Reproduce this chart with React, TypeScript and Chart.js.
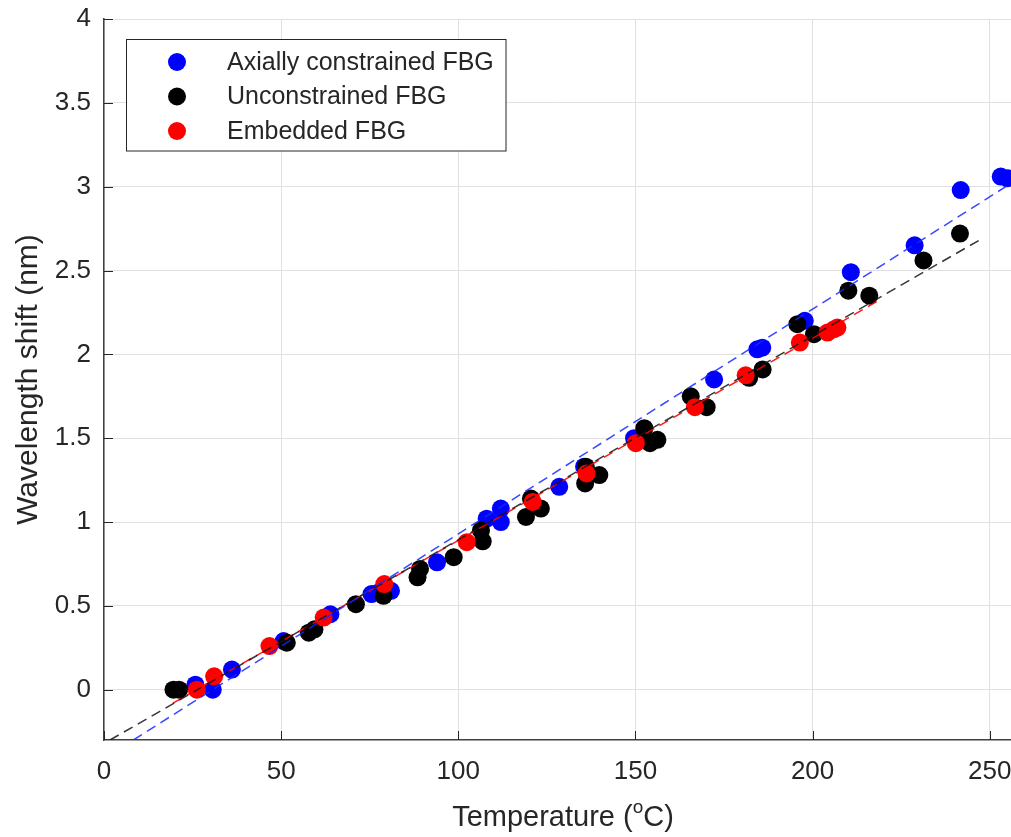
import { useEffect, useRef } from "react";
import { Chart, registerables } from "chart.js";

Chart.register(...registerables);

// ---- Data ----
const xTickValues = [0, 50, 100, 150, 200, 250];
const yTickValues = [0, 0.5, 1, 1.5, 2, 2.5, 3, 3.5, 4];
const xLimits = [0, 256];
const yLimits = [-0.3, 4];

const seriesNames = ["Axially constrained FBG", "Unconstrained FBG", "Embedded FBG"];

const axialT = [25.8, 30.7, 36.1, 50.7, 63.9, 75.5, 77.5, 81, 94, 108, 112, 112, 128.5, 135.5, 149.6, 172.2, 184.4, 185.8, 197.8, 210.8, 228.8, 241.8, 253.1, 255];
const axialShift = [0.03, 0.0, 0.12, 0.29, 0.45, 0.57, 0.58, 0.59, 0.76, 1.02, 1.08, 1.0, 1.21, 1.33, 1.5, 1.85, 2.03, 2.04, 2.2, 2.49, 2.65, 2.98, 3.06, 3.05];

const unconT = [19.6, 21.2, 51.6, 57.8, 59.4, 71.1, 78.9, 88.5, 89.2, 98.7, 106.9, 106.4, 119.1, 120.5, 123.3, 136, 135.8, 139.8, 152.5, 154.1, 156.2, 165.6, 170.1, 182.1, 185.9, 195.7, 200.4, 210.1, 216, 231.3, 241.6];
const unconShift = [0.0, 0.0, 0.28, 0.34, 0.36, 0.51, 0.56, 0.67, 0.72, 0.79, 0.885, 0.95, 1.03, 1.14, 1.08, 1.33, 1.23, 1.28, 1.56, 1.47, 1.49, 1.75, 1.685, 1.86, 1.91, 2.18, 2.12, 2.38, 2.35, 2.56, 2.72];

const embT = [26.2, 31.1, 46.7, 62, 79.1, 102.4, 121, 136.2, 150.1, 166.8, 181.1, 196.4, 204.2, 206.1, 207];
const embShift = [0.0, 0.08, 0.26, 0.43, 0.63, 0.88, 1.12, 1.29, 1.47, 1.685, 1.875, 2.07, 2.13, 2.15, 2.16];

// linear fit line end points (T, shift)
const axialFitT = [8.3, 256];
const axialFitShift = [-0.3, 3.02];
const unconFitT = [1.7, 247.8];
const unconFitShift = [-0.3, 2.69];
const embFitT = [19.5, 219];
const embFitShift = [-0.08, 2.325];

const xTitleMain = "Temperature (";
const xTitleSup = "o";
const xTitleEnd = "C)";
const yTitle = "Wavelength shift (nm)";

const FONT = '"Liberation Sans", Arial, Helvetica, sans-serif';
const TEXT = "#262626";

const pts = (xs: number[], ys: number[]) => xs.map((x, i) => ({ x, y: ys[i] }));

const decorPlugin = {
  id: "decor",
  afterDraw(chart: any) {
    const ctx = chart.ctx;
    const xs = chart.scales.x;
    const ys = chart.scales.y;
    const area = chart.chartArea;
    ctx.save();
    // inward tick marks
    ctx.strokeStyle = TEXT;
    ctx.lineWidth = 1;
    ctx.beginPath();
    for (const v of xTickValues) {
      const px = Math.round(xs.getPixelForValue(v)) + 0.5;
      ctx.moveTo(px, area.bottom);
      ctx.lineTo(px, area.bottom - 9);
    }
    for (const v of yTickValues) {
      const py = Math.round(ys.getPixelForValue(v)) + 0.5;
      ctx.moveTo(area.left, py);
      ctx.lineTo(area.left + 9, py);
    }
    ctx.stroke();

    // x axis title with superscript
    ctx.fillStyle = TEXT;
    ctx.textBaseline = "alphabetic";
    ctx.textAlign = "left";
    const big = `29px ${FONT}`;
    const small = `19px ${FONT}`;
    ctx.font = big;
    const w1 = ctx.measureText(xTitleMain).width;
    const w3 = ctx.measureText(xTitleEnd).width;
    ctx.font = small;
    const w2 = ctx.measureText(xTitleSup).width;
    const total = w1 + w2 + w3;
    const cx = 563;
    const x0 = cx - total / 2;
    const base = 826;
    ctx.font = big;
    ctx.fillText(xTitleMain, x0, base);
    ctx.font = small;
    ctx.fillText(xTitleSup, x0 + w1, base - 13);
    ctx.font = big;
    ctx.fillText(xTitleEnd, x0 + w1 + w2, base);

    // legend
    const lx = 126.5, ly = 39.5, lw = 379.5, lh = 111.5;
    ctx.fillStyle = "#ffffff";
    ctx.fillRect(lx, ly, lw, lh);
    ctx.strokeStyle = "#262626";
    ctx.lineWidth = 1;
    ctx.strokeRect(lx, ly, lw, lh);
    const colors = ["#0000ff", "#000000", "#ff0000"];
    const rows = [62, 96.5, 131];
    ctx.font = `25px ${FONT}`;
    ctx.textBaseline = "middle";
    for (let i = 0; i < seriesNames.length; i++) {
      ctx.fillStyle = colors[i];
      ctx.beginPath();
      ctx.arc(177, rows[i], 9, 0, Math.PI * 2);
      ctx.fill();
      ctx.fillStyle = TEXT;
      ctx.fillText(seriesNames[i], 227, rows[i] + 1);
    }
    ctx.restore();
  },
};

export default function App() {
  const ref = useRef<HTMLCanvasElement | null>(null);
  useEffect(() => {
    if (!ref.current) return;
    const dashed = (color: string, xs: number[], ys: number[]) => ({
      type: "line" as const,
      data: pts(xs, ys),
      borderColor: color,
      borderWidth: 1.5,
      borderDash: [10, 6],
      pointRadius: 0,
      fill: false,
      order: 0,
    });
    const dots = (color: string, xs: number[], ys: number[], label: string, order: number) => ({
      type: "scatter" as const,
      label,
      data: pts(xs, ys),
      backgroundColor: color,
      borderWidth: 0,
      pointRadius: 9,
      pointHoverRadius: 9,
      order,
    });
    const chart = new Chart(ref.current, {
      type: "scatter",
      data: {
        datasets: [
          dashed("rgba(20,40,255,0.85)", axialFitT, axialFitShift),
          dashed("rgba(20,20,20,0.85)", unconFitT, unconFitShift),
          dashed("rgba(255,0,0,0.9)", embFitT, embFitShift),
          dots("#ff0000", embT, embShift, seriesNames[2], 1),
          dots("#000000", unconT, unconShift, seriesNames[1], 2),
          dots("#0000ff", axialT, axialShift, seriesNames[0], 3),
        ] as any,
      },
      options: {
        animation: false,
        responsive: false,
        devicePixelRatio: 1,
        layout: { autoPadding: false, padding: { top: 19, left: 0, right: 0, bottom: 0 } },
        plugins: { legend: { display: false }, tooltip: { enabled: false } },
        scales: {
          x: {
            type: "linear",
            min: xLimits[0],
            max: xLimits[1],
            afterBuildTicks: (s: any) => {
              s.ticks = xTickValues.map((v) => ({ value: v }));
            },
            afterFit: (s: any) => {
              s.height = 97;
              s.paddingLeft = 0;
              s.paddingRight = 0;
            },
            grid: { color: "#e0e0e0", lineWidth: 1, drawTicks: false },
            border: { color: "#404040", width: 1.5 },
            ticks: {
              color: TEXT,
              font: { family: FONT, size: 26 },
              padding: 16,
              maxRotation: 0,
              callback: (v: any) => String(v),
            },
          },
          y: {
            type: "linear",
            min: yLimits[0],
            max: yLimits[1],
            afterBuildTicks: (s: any) => {
              s.ticks = yTickValues.map((v) => ({ value: v }));
            },
            afterFit: (s: any) => {
              s.width = 104;
              s.paddingTop = 0;
              s.paddingBottom = 0;
            },
            grid: { color: "#e0e0e0", lineWidth: 1, drawTicks: false },
            border: { color: "#404040", width: 1.5 },
            ticks: {
              color: TEXT,
              font: { family: FONT, size: 26 },
              padding: 13,
              callback: (v: any) => String(v),
            },
            title: {
              display: true,
              text: yTitle,
              color: TEXT,
              font: { family: FONT, size: 30, weight: "normal" },
              padding: { top: 11, bottom: 0 },
            },
          },
        },
      },
      plugins: [decorPlugin],
    });
    return () => chart.destroy();
  }, []);
  return (
    <div style={{ position: "absolute", left: 0, top: 0, width: 1011, height: 837, background: "#fff" }}>
      <canvas ref={ref} width={1011} height={837} style={{ display: "block" }} />
    </div>
  );
}
